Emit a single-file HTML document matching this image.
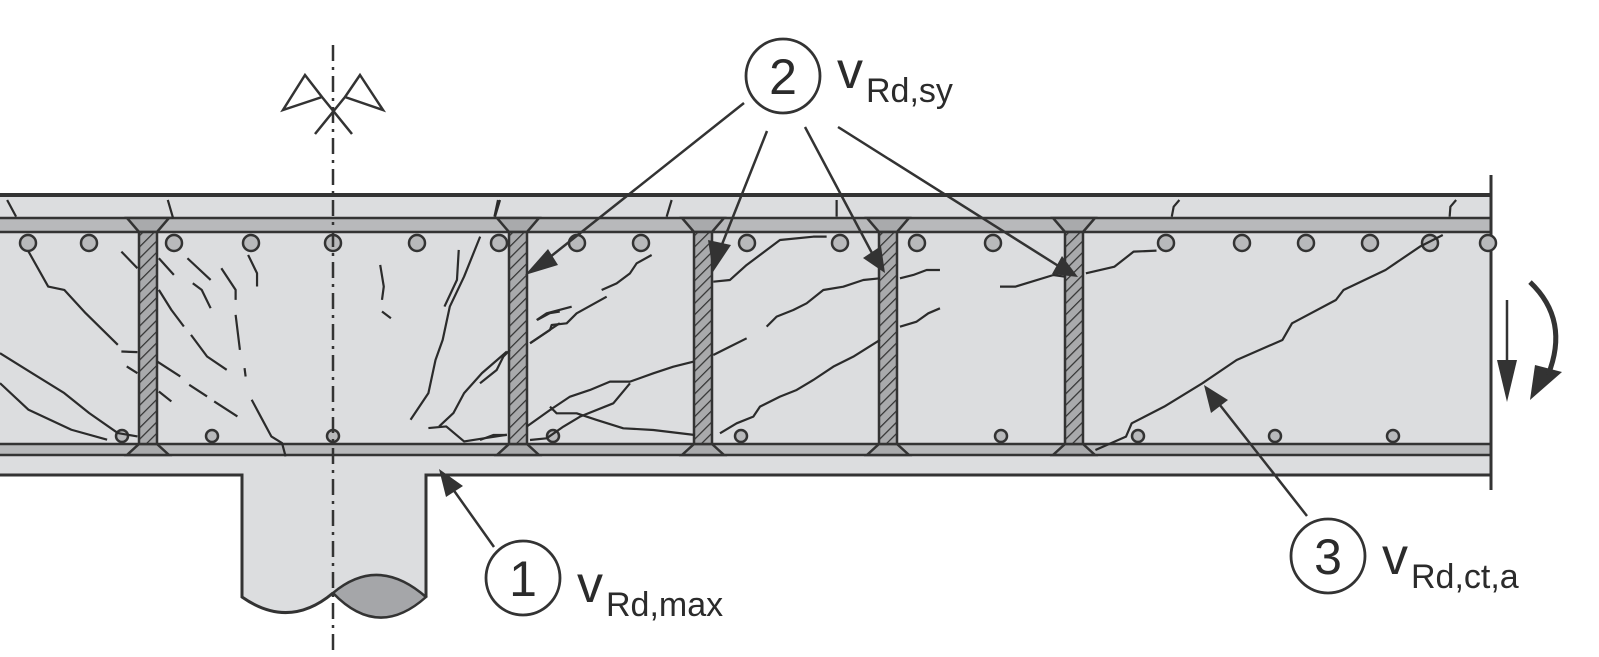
<!DOCTYPE html>
<html><head><meta charset="utf-8"><style>
html,body{margin:0;padding:0;background:#fff;}
svg{display:block;}
text{font-family:"Liberation Sans",sans-serif;fill:#2b2b2b;}
</style></head><body>
<svg width="1599" height="657" viewBox="0 0 1599 657" xmlns="http://www.w3.org/2000/svg">
<defs>
<pattern id="h" width="8" height="8" patternUnits="userSpaceOnUse" patternTransform="rotate(-45)">
<rect width="8" height="8" fill="#a9aaac"/><line x1="0" y1="0" x2="8" y2="0" stroke="#333" stroke-width="2.5"/>
</pattern>
<g id="s" stroke="#333" stroke-width="2.5"><path d="M-21,218 L21,218 L9,232 L-9,232 Z M-21,455 L21,455 L9,444 L-9,444 Z" fill="#a9aaac"/><rect x="-9" y="232" width="18" height="212" fill="url(#h)"/></g>
</defs>
<!-- slab -->
<rect x="0" y="195" width="1491" height="280" fill="#dcdddf"/>
<rect x="0" y="218" width="1491" height="14" fill="#b8b9bb"/>
<rect x="0" y="444" width="1491" height="11" fill="#b8b9bb"/>
<g stroke="#333" fill="none">
<line x1="0" y1="195" x2="1491" y2="195" stroke-width="4"/>
<line x1="0" y1="218" x2="1491" y2="218" stroke-width="2.5"/>
<line x1="0" y1="232" x2="1491" y2="232" stroke-width="2.5"/>
<line x1="0" y1="444" x2="1491" y2="444" stroke-width="2.5"/>
<line x1="0" y1="455" x2="1491" y2="455" stroke-width="2.5"/>
</g>
<!-- column -->
<path d="M242,474 L242,597 Q289,630 333,593 Q378,555 426,597 L426,474 Z" fill="#dcdddf"/>
<path d="M333,593 Q378,555 426,597 Q378,640 333,593 Z" fill="#a5a6a9" stroke="#333" stroke-width="2.5"/>
<path d="M0,475 L242,475 L242,597 Q289,630 333,593" fill="none" stroke="#333" stroke-width="3"/>
<path d="M1491,475 L426,475 L426,597" fill="none" stroke="#333" stroke-width="3"/>
<line x1="1491" y1="175" x2="1491" y2="490" stroke="#333" stroke-width="3"/>
<!-- studs -->
<use href="#s" x="148"/><use href="#s" x="518"/><use href="#s" x="703"/><use href="#s" x="888"/><use href="#s" x="1074"/>
<!-- rebars -->
<g fill="#b8b9bb" stroke="#333" stroke-width="2.5">
<circle cx="28" cy="243" r="8"/><circle cx="89" cy="243" r="8"/><circle cx="174" cy="243" r="8"/><circle cx="251" cy="243" r="8"/><circle cx="333" cy="243" r="8"/><circle cx="417" cy="243" r="8"/><circle cx="499" cy="243" r="8"/><circle cx="577" cy="243" r="8"/><circle cx="641" cy="243" r="8"/><circle cx="747" cy="243" r="8"/><circle cx="840" cy="243" r="8"/><circle cx="917" cy="243" r="8"/><circle cx="993" cy="243" r="8"/><circle cx="1166" cy="243" r="8"/><circle cx="1242" cy="243" r="8"/><circle cx="1306" cy="243" r="8"/><circle cx="1370" cy="243" r="8"/><circle cx="1430" cy="243" r="8"/><circle cx="1488" cy="243" r="8"/>
<circle cx="122" cy="436" r="6"/><circle cx="212" cy="436" r="6"/><circle cx="333" cy="436" r="6"/><circle cx="553" cy="436" r="6"/><circle cx="741" cy="436" r="6"/><circle cx="1001" cy="436" r="6"/><circle cx="1138" cy="436" r="6"/><circle cx="1275" cy="436" r="6"/><circle cx="1393" cy="436" r="6"/>
</g>
<!-- cracks -->
<g fill="none" stroke="#2b2b2b" stroke-width="2.2" stroke-linejoin="round">
<g transform="translate(0,180) scale(0.357,0.333)">
<path vector-effect="non-scaling-stroke" d="M20,60 L45,110 M470,60 L485,115 M1395,60 L1385,110"/>
<path vector-effect="non-scaling-stroke" d="M80,215 L135,320 L180,330 L240,400 L330,495 M0,520 L90,580 L180,640 L250,700 L330,760 L385,770 M0,610 L80,690 L200,750 L300,780 M340,515 L385,517 M340,215 L385,265 M355,560 L385,580"/>
<path vector-effect="non-scaling-stroke" d="M445,235 L487,285 M445,330 L480,390 L515,440 M535,465 L580,530 L635,570 M440,545 L505,590 M530,615 L580,650 M600,665 L665,710 M445,635 L480,665 M525,235 L590,300 M540,310 L565,330 L590,385 M620,265 L660,330 L660,360 M660,405 L672,510 M685,565 L688,590 M695,225 L720,280 L720,320 M705,660 L730,710 L760,770 L790,790 L800,830"/>
<path vector-effect="non-scaling-stroke" d="M1065,255 L1075,320 L1070,360 M1070,395 L1095,415 M1285,210 L1280,300 L1245,380 M1345,170 L1300,290 L1260,380 L1240,480 L1220,540 L1200,640 L1150,720 M1200,745 L1250,740 L1300,785 L1360,775 L1420,765 M1420,515 L1350,580 L1300,640 L1270,700 L1230,740 M1505,420 L1540,400 L1568,395 M1485,490 L1540,450 L1568,430"/>
</g>
<g transform="translate(480,190) scale(0.3333)">
<path vector-effect="non-scaling-stroke" d="M60,30 L45,80 M575,30 L560,80 M1070,30 L1070,80"/>
<path vector-effect="non-scaling-stroke" d="M150,460 L210,420 L215,405 L260,400 L290,370 L380,320 M170,390 L200,370 L275,350 M365,300 L410,280 L450,250 L470,220 L515,195 M0,580 L50,540 L70,500 L90,480 M140,710 L210,660 L270,620 L330,600 L390,575 L450,575 L520,550 L580,530 L640,515 M700,495 L750,470 L800,445 M150,750 L200,745 L250,710 L300,680 L400,640 L450,580 M210,650 L230,670 L290,670 L350,690 L430,715 L520,720 L645,735 M0,750 L40,735 L80,735 M700,275 L750,270 L800,225 L860,180 L900,150 L1000,140 L1040,140 M720,730 L770,700 L820,680 L840,650 L900,620 L950,600 L1000,570 L1060,530 L1120,500 L1200,450 M860,410 L890,380 L940,360 L980,340 L1030,300 L1090,290 L1150,270 L1200,265 M1260,265 L1300,255 L1340,240 L1380,240 M1260,410 L1310,395 L1345,370 L1380,355"/>
</g>
<g transform="translate(1000,180) scale(0.3817,0.3333)">
<path vector-effect="non-scaling-stroke" d="M470,60 L455,80 L450,110 M1195,60 L1180,80 L1178,110"/>
<path vector-effect="non-scaling-stroke" d="M250,810 L330,770 L345,730 L430,680 L530,610 L620,540 L740,480 L765,430 L880,360 L900,330 L1010,270 L1100,200 L1160,165 M0,320 L40,320 L140,285 L170,290 M225,280 L300,260 L350,215 L410,212"/>
</g>
</g>
<!-- center line -->
<line x1="333" y1="45" x2="333" y2="650" stroke="#333" stroke-width="2.5" stroke-dasharray="16,6,3,6"/>
<!-- symmetry symbol -->
<g fill="none" stroke="#333" stroke-width="2.5">
<path d="M305,75 L283,110 L322,97 Z M360,75 L383,110 L345,97 Z M322,97 L352,134 M345,97 L315,134"/>
</g>
<!-- leader arrows -->
<g stroke="#333" stroke-width="2.5">
<line x1="744" y1="103" x2="540" y2="265"/>
<line x1="767" y1="131" x2="719" y2="252"/>
<line x1="805" y1="127" x2="873" y2="255"/>
<line x1="838" y1="127" x2="1060" y2="267"/>
<line x1="494" y1="547" x2="450" y2="485"/>
<line x1="1307" y1="516" x2="1216" y2="400"/>
<line x1="1507" y1="300" x2="1507" y2="370"/>
</g>
<g fill="#333">
<polygon points="525,275 548,249 558,265"/>
<polygon points="713,272 708,240 731,245"/>
<polygon points="885,273 863,258 881,246"/>
<polygon points="1078,277 1052,274 1062,256"/>
<polygon points="439,469 463,486 446,497"/>
<polygon points="1204,385 1228,400 1211,413"/>
<polygon points="1507,402 1497,360 1517,360"/>
<polygon points="1530,400 1535,365 1562,372"/>
</g>
<path d="M1530,282 Q1570,320 1548,375" fill="none" stroke="#333" stroke-width="5"/>
<!-- labels -->
<g fill="none" stroke="#333" stroke-width="2.8">
<circle cx="783" cy="76" r="37"/>
<circle cx="523" cy="578" r="37"/>
<circle cx="1328" cy="556" r="37"/>
</g>
<text x="783" y="94" font-size="50" text-anchor="middle">2</text>
<text x="523" y="596" font-size="50" text-anchor="middle">1</text>
<text x="1328" y="574" font-size="50" text-anchor="middle">3</text>
<text x="837" y="88" font-size="52">v</text><text x="866" y="102" font-size="34">Rd,sy</text>
<text x="577" y="602" font-size="52">v</text><text x="606" y="616" font-size="34">Rd,max</text>
<text x="1382" y="574" font-size="52">v</text><text x="1411" y="588" font-size="34">Rd,ct,a</text>
</svg>
</body></html>
